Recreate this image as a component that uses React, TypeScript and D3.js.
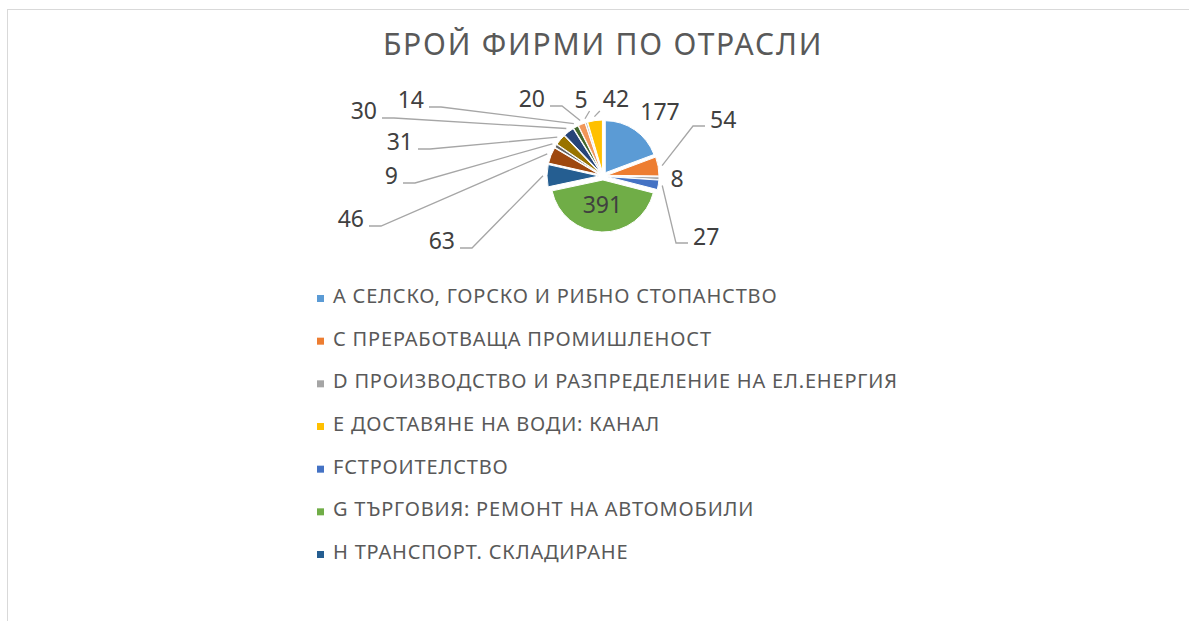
import React, { useEffect, useRef } from 'react';
import * as d3 from 'd3';

// брой фирми по отрасли
const categories = [
  'А СЕЛСКО, ГОРСКО И РИБНО СТОПАНСТВО',
  'С ПРЕРАБОТВАЩА ПРОМИШЛЕНОСТ',
  'D ПРОИЗВОДСТВО И РАЗПРЕДЕЛЕНИЕ НА ЕЛ.ЕНЕРГИЯ',
  'Е ДОСТАВЯНЕ НА ВОДИ: КАНАЛ',
  'FСТРОИТЕЛСТВО',
  'G ТЪРГОВИЯ: РЕМОНТ НА АВТОМОБИЛИ',
  'Н ТРАНСПОРТ. СКЛАДИРАНЕ',
  'I ХОТЕЛИЕРСТВО И РЕСТОРАНТЬОРСТВО',
  'J СЪЗДАВАНЕ И РАЗПРОСТРАНЕНИЕ НА ИНФОРМАЦИЯ',
  'L ОПЕРАЦИИ С НЕДВИЖИМИ ИМОТИ',
  'M ПРОФЕСИОНАЛНИ ДЕЙНОСТИ',
  'N АДМИНИСТРАТИВНИ ДЕЙНОСТИ',
  'Р ОБРАЗОВАНИЕ',
  'Q ХУМАННО ЗДРАВЕОПАЗВАНЕ',
];
const firms = [177, 54, 8, 27, 391, 63, 46, 9, 31, 30, 14, 20, 5, 42];

const sliceColors = ['#5B9BD5', '#ED7D31', '#A5A5A5', '#4472C4', '#70AD47', '#255E91', '#9E480E',
  '#636363', '#997300', '#264478', '#43682B', '#F1975A', '#B7B7B7', '#FFC000'];
const legendColors = ['#5B9BD5', '#ED7D31', '#A5A5A5', '#FFC000', '#4472C4', '#70AD47', '#255E91'];
const legendShown = 7; // в оригинала легендата е отрязана

// разположение на етикетите спрямо центъра: [dx, dy базова линия, вид]
const labelSpots: [number, number, string][] = [
  [57, -56, 'none'],
  [107, -48, 'right'],
  [74, 11, 'none'],
  [90, 69, 'right'],
  [0, 0, 'inside'],
  [-148, 73, 'left'],
  [-239, 51, 'left'],
  [-205, 8, 'left'],
  [-190, -26, 'left'],
  [-226, -57, 'left'],
  [-179, -68, 'left'],
  [-58, -69, 'left'],
  [-22, -68, 'topR'],
  [13, -69, 'topL'],
];

function PieChart() {
  const ref = useRef<SVGSVGElement>(null);

  useEffect(() => {
    const width = 1189;
    const height = 621;
    const cx = 603, cy = 176;
    const radius = 52;
    const explode = 4;
    const font = '"Noto Sans", sans-serif';

    const svg = d3.select(ref.current);
    svg.selectAll('*').remove();
    svg.attr('width', width).attr('height', height);

    // рамка
    svg.append('rect')
      .attr('x', 7.5).attr('y', 9.5)
      .attr('width', width + 20).attr('height', height + 20)
      .attr('fill', '#fff').attr('stroke', '#d9d9d9');

    svg.append('text')
      .attr('x', cx).attr('y', 55)
      .attr('text-anchor', 'middle')
      .attr('font-family', font).attr('font-size', 30)
      .attr('letter-spacing', 1.8)
      .attr('fill', '#595959')
      .text('БРОЙ ФИРМИ ПО ОТРАСЛИ');

    const pie = d3.pie<number>().sort(null).value(d => d);
    const arcs = pie(firms);
    const arc = d3.arc<d3.PieArcDatum<number>>().innerRadius(0).outerRadius(radius);
    const rim = d3.arc<d3.PieArcDatum<number>>().innerRadius(radius + 8).outerRadius(radius + 8);
    const mid = d3.arc<d3.PieArcDatum<number>>().innerRadius(0).outerRadius(radius * 0.95);

    const g = svg.append('g').attr('transform', `translate(${cx},${cy})`);

    g.selectAll('path.slice')
      .data(arcs)
      .enter()
      .append('path')
      .attr('class', 'slice')
      .attr('fill', (d, i) => sliceColors[i])
      .attr('stroke', '#fff').attr('stroke-width', 1)
      .attr('transform', d => {
        const a = (d.startAngle + d.endAngle) / 2;
        return `translate(${explode * Math.sin(a)},${-explode * Math.cos(a)})`;
      })
      .attr('d', d => arc(d));

    // линии към етикетите
    const fs = 23;
    const digitW = fs * 0.572;
    arcs.forEach((d, i) => {
      const [dx, dy, kind] = labelSpots[i];
      const w = String(d.data).length * digitW;
      const [px, py] = rim.centroid(d);
      let pts: [number, number][] = [];
      if (kind === 'left') {
        pts = [[dx + 5, dy - 1], [dx + 17, dy - 1], [px, py]];
      } else if (kind === 'right') {
        pts = [[dx - 5, dy - 2], [dx - 17, dy - 2], [px, py]];
      } else if (kind === 'topR') {
        pts = [[dx + w / 2 + 2, dy + 3], [px, py]];
      } else if (kind === 'topL') {
        pts = [[dx - w / 2 - 3, dy + 4], [px, py]];
      }
      if (pts.length) {
        g.append('path')
          .attr('d', d3.line()(pts))
          .attr('fill', 'none')
          .attr('stroke', '#a6a6a6').attr('stroke-width', 1.3);
      }
    });

    g.selectAll('text.lbl')
      .data(arcs)
      .enter()
      .append('text')
      .attr('class', 'lbl')
      .attr('font-family', font).attr('font-size', fs)
      .attr('fill', '#404040')
      .attr('text-anchor', (d, i) => {
        const k = labelSpots[i][2];
        return k === 'left' ? 'end' : k === 'right' ? 'start' : 'middle';
      })
      .attr('x', (d, i) => {
        if (labelSpots[i][2] === 'inside') {
          const a = (d.startAngle + d.endAngle) / 2;
          return mid.centroid(d)[0] + explode * Math.sin(a);
        }
        return labelSpots[i][0];
      })
      .attr('y', (d, i) => {
        if (labelSpots[i][2] === 'inside') {
          const a = (d.startAngle + d.endAngle) / 2;
          return mid.centroid(d)[1] - explode * Math.cos(a) + 8;
        }
        return labelSpots[i][1];
      })
      .text(d => d.data);

    // легенда
    const legend = svg.append('g').attr('transform', 'translate(317,0)');
    const rows = d3.range(legendShown);
    const y = d3.scalePoint<number>().domain(rows).range([303, 559]);
    const item = legend.selectAll('g.item')
      .data(rows)
      .enter()
      .append('g')
      .attr('class', 'item')
      .attr('transform', i => `translate(0,${y(i)})`);
    item.append('rect')
      .attr('x', 0).attr('y', -8)
      .attr('width', 7).attr('height', 7)
      .attr('fill', i => legendColors[i]);
    item.append('text')
      .attr('x', 16)
      .attr('font-family', font).attr('font-size', 20)
      .attr('letter-spacing', 0.8)
      .attr('fill', '#595959')
      .text(i => categories[i]);
  }, []);

  return <svg ref={ref} style={{ position: 'absolute', left: 0, top: 0 }} />;
}

export default function App() {
  return <PieChart />;
}
